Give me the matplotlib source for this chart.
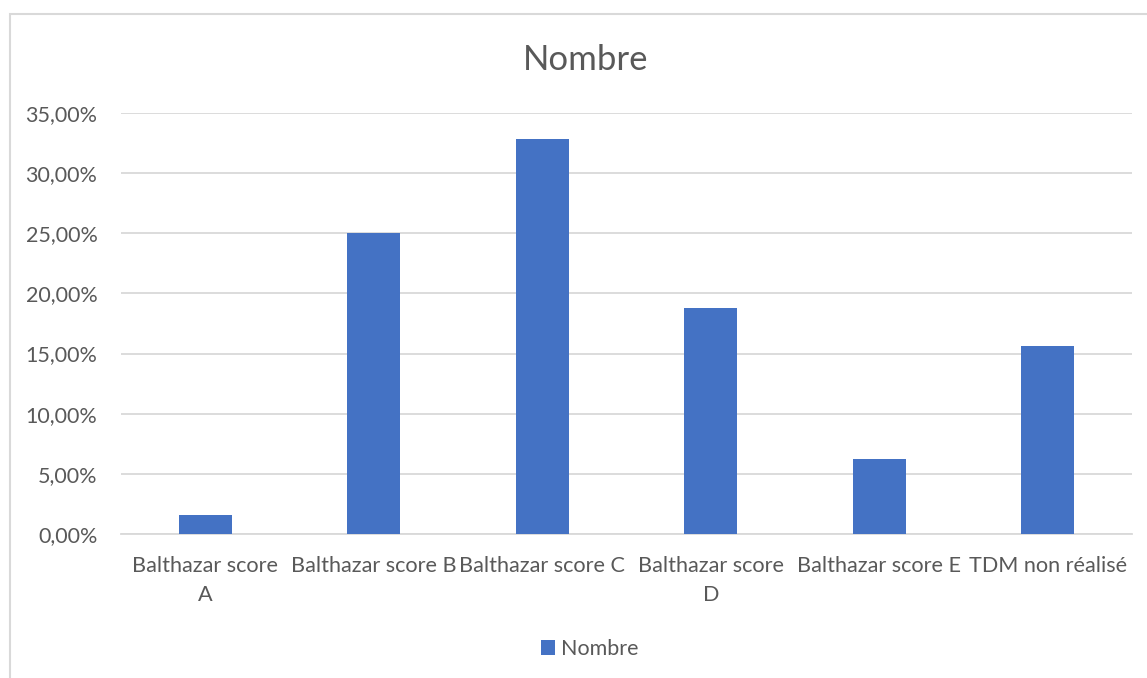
import matplotlib.pyplot as plt
from matplotlib.patches import Rectangle
from matplotlib.ticker import FuncFormatter

categories = ["Balthazar score\nA", "Balthazar score B", "Balthazar score C",
              "Balthazar score\nD", "Balthazar score E", "TDM non réalisé"]
nombre = [0.015625, 0.25, 0.328125, 0.1875, 0.0625, 0.15625]
yticks = [0, 0.05, 0.10, 0.15, 0.20, 0.25, 0.30, 0.35]

W, H = 1147, 678
txt = "#595959"
blue = "#4472C4"
plt.rcParams['font.family'] = ['Lato', 'DejaVu Sans']

fig = plt.figure(figsize=(W / 100, H / 100), dpi=100)
ax = fig.add_axes([121 / W, 1 - 534 / H, (1132 - 121) / W, (534 - 113) / H])

x = range(len(categories))
ax.bar(x, nombre, width=0.315, color=blue, zorder=3, label="Nombre")

ax.set_xlim(-0.5, len(categories) - 0.5)
ax.set_ylim(0, 0.35)
ax.set_yticks(yticks)
ax.yaxis.set_major_formatter(FuncFormatter(lambda v, p: f"{v * 100:.2f}%".replace(".", ",")))
ax.set_xticks(list(x))
ax.set_xticklabels(categories, linespacing=1.55, va="top")
ax.tick_params(axis="y", length=0, pad=17, labelsize=15.5, labelcolor=txt)
ax.tick_params(axis="x", length=0, pad=16, labelsize=15.6, labelcolor=txt)
ax.grid(axis="y", color="#d9d9d9", linewidth=1.3, zorder=0)
for s in ["top", "right", "left"]:
    ax.spines[s].set_visible(False)
ax.spines["bottom"].set_color("#d9d9d9")
ax.spines["bottom"].set_linewidth(1.3)

# outer chart frame
fig.patches.append(Rectangle((9.5 / W, -0.1), 1.2, 1 - 14.5 / H + 0.1,
                             transform=fig.transFigure, fill=False,
                             edgecolor="#d9d9d9", linewidth=1.5))

fig.text(586 / W, 1 - 60 / H, "Nombre", ha="center", va="center",
         fontsize=25, color=txt)
fig.legend(loc="center", bbox_to_anchor=(590 / W, 1 - 649 / H), frameon=False,
           fontsize=15.5, labelcolor=txt, handlelength=0.65, handleheight=0.65,
           handletextpad=0.3)

fig.savefig("out.png", dpi=100)
